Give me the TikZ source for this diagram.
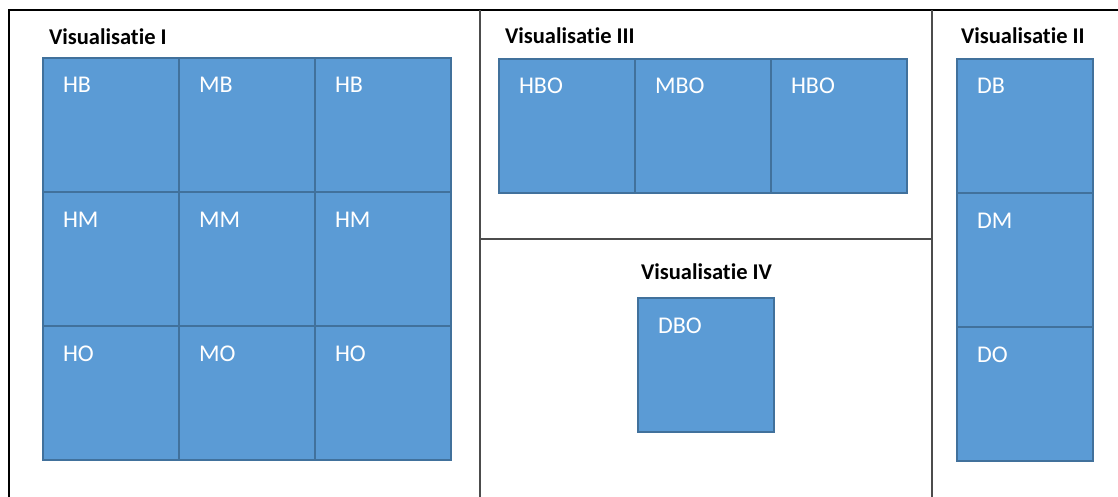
\documentclass[tikz,border=0pt]{standalone}
\usepackage{fontspec}
\setmainfont{Carlito}[Ligatures=NoCommon]
\usetikzlibrary{positioning}

\definecolor{cellfill}{HTML}{5B9BD5}
\definecolor{celldraw}{HTML}{41719C}

\begin{document}
\begin{tikzpicture}[
    x=1pt,
    y=-1pt,
    node distance=0pt and 0pt,
    every node/.style={outer sep=0},
    cell/.style={
      rectangle,
      draw=celldraw,
      fill=cellfill,
      line width=1.3pt,
      text=white,
      font=\fontsize{24}{24}\selectfont,
      text width=96pt,
      align=left,
      inner xsep=20pt,
      inner ysep=0pt,
      text height=35pt,
      text depth=99pt
    },
    title/.style={anchor=base west, inner sep=0, font=\fontsize{22.5}{22.5}\selectfont\bfseries},
    frame/.style={draw=black, line width=2.5pt},
    divider/.style={draw=black!70, line width=1.2pt}
  ]

  \useasboundingbox (0,0) rectangle (1118,497);

  % outer frame and dividers
  \draw[frame] (9,497) -- (9,10) -- (1118,10);
  \coordinate (midtop) at (480,10);
  \coordinate (midbot) at (480,497);
  \coordinate (righttop) at (932,10);
  \coordinate (rightbot) at (932,497);
  \coordinate (splitleft) at (480,239);
  \coordinate (splitright) at (932,239);
  \draw[divider] (midtop) -- (midbot);
  \draw[divider] (righttop) -- (rightbot);
  \draw[divider] (splitleft) -- (splitright);

  % Visualisatie I
  \node[title] (titleI) at (49,45) {Visualisatie I};
  \node[cell, anchor=north west] (hb1) at (43,58) {HB};
  \node[cell, right=of hb1] (mb) {MB};
  \node[cell, right=of mb] (hb2) {HB};
  \node[cell, below=of hb1] (hm1) {HM};
  \node[cell, right=of hm1] (mm) {MM};
  \node[cell, right=of mm] (hm2) {HM};
  \node[cell, below=of hm1] (ho1) {HO};
  \node[cell, right=of ho1] (mo) {MO};
  \node[cell, right=of mo] (ho2) {HO};

  % Visualisatie III
  \node[title] (titleIII) at (505,44) {Visualisatie III};
  \node[cell, anchor=north west] (hbo1) at (499,59) {HBO};
  \node[cell, right=of hbo1] (mbo) {MBO};
  \node[cell, right=of mbo] (hbo2) {HBO};

  % Visualisatie IV
  \node[title] (titleIV) at (641,279) {Visualisatie IV};
  \node[cell, anchor=north west] (dbo) at (638,298) {DBO};

  % Visualisatie II
  \node[title] (titleII) at (961,44) {Visualisatie II};
  \node[cell, anchor=north west] (db) at (957,59) {DB};
  \node[cell, below=of db] (dm) {DM};
  \node[cell, below=of dm] (do) {DO};

\end{tikzpicture}
\end{document}
